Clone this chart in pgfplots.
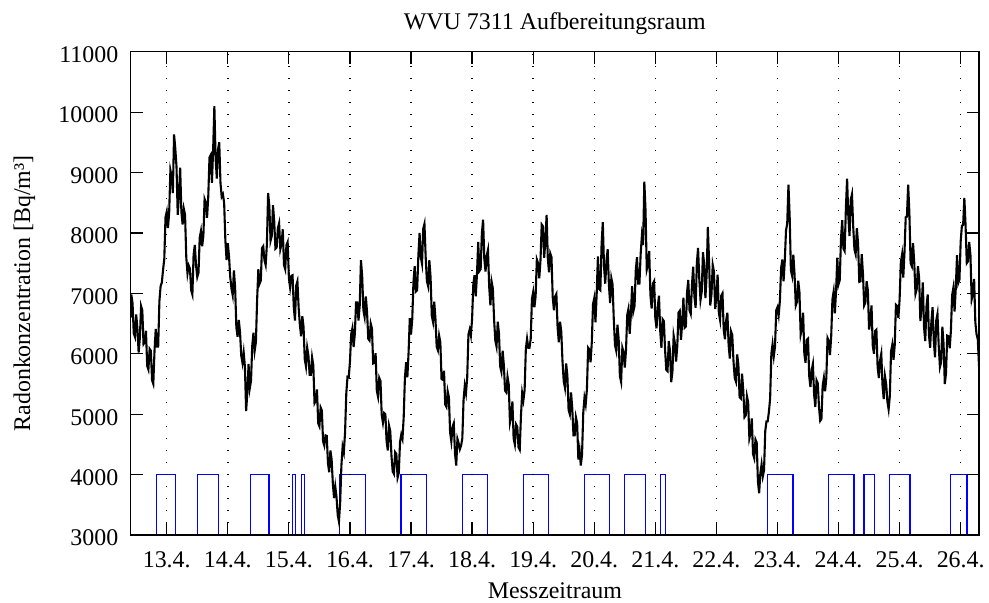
\documentclass[border=0pt]{standalone}
\usepackage{fontspec}
\setmainfont{Liberation Serif}
\usepackage{pgfplots}
\pgfplotsset{compat=1.18}
\usetikzlibrary{calc}

% Radonkonzentration (Bq/m3), Zeit in Tagen (April)
\pgfplotstableread{
t v
12.41 6600
12.42 6980
12.44 6840
12.46 6340
12.48 6280
12.50 6650
12.52 6420
12.54 6020
12.56 6260
12.58 6790
12.60 6720
12.62 6160
12.64 6190
12.66 6380
12.68 5800
12.70 5740
12.72 6080
12.74 6050
12.76 5560
12.78 5500
12.80 6050
12.82 6410
12.84 6120
12.86 6120
12.88 6870
12.90 7120
12.92 7180
12.94 7390
12.96 7570
12.98 8260
13.00 8350
13.02 8080
13.04 8340
13.06 9040
13.08 8940
13.10 8660
13.12 9630
13.14 9400
13.16 9100
13.18 8300
13.20 8610
13.22 9080
13.24 8350
13.26 8140
13.28 8400
13.30 8300
13.32 7600
13.34 7330
13.36 7460
13.38 7410
13.40 7050
13.42 6980
13.44 7640
13.46 7800
13.48 7460
13.50 7270
13.52 7340
13.54 7920
13.56 8030
13.58 7780
13.60 7950
13.62 8560
13.64 8500
13.66 8250
13.68 8600
13.70 9250
13.72 9290
13.74 8830
13.76 9380
13.78 10100
13.80 9240
13.82 8900
13.84 9380
13.86 9500
13.88 8830
13.90 8600
13.92 8640
13.94 8500
13.96 7880
13.98 7550
14.00 7830
14.02 7610
14.04 7270
14.06 7080
14.08 6970
14.10 7380
14.12 7090
14.14 6440
14.16 6280
14.18 6560
14.20 6360
14.22 5970
14.24 5850
14.26 6020
14.28 5790
14.30 5050
14.32 5360
14.34 5830
14.36 5430
14.38 5550
14.40 6130
14.42 6350
14.44 6050
14.46 6190
14.48 6890
14.50 7400
14.52 7160
14.54 7210
14.56 7750
14.58 7780
14.60 7550
14.62 7470
14.64 7810
14.66 8660
14.68 8450
14.70 7870
14.72 7950
14.74 8460
14.76 8190
14.78 7740
14.80 7760
14.82 8080
14.84 8160
14.86 7730
14.88 7820
14.90 8060
14.92 7470
14.94 7400
14.96 7800
14.98 7850
15.00 7260
15.02 7100
15.04 7290
15.06 7300
15.08 6780
15.10 6550
15.12 7130
15.14 7200
15.16 6760
15.18 6480
15.20 6290
15.22 6620
15.24 6450
15.26 5910
15.28 5790
15.30 6100
15.32 5970
15.34 5650
15.36 5650
15.38 5940
15.40 5810
15.42 5180
15.44 5220
15.46 5410
15.48 4850
15.50 4800
15.52 5110
15.54 5060
15.56 4550
15.58 4480
15.60 4650
15.62 4640
15.64 4190
15.66 4040
15.68 4400
15.70 4250
15.72 3850
15.74 3610
15.76 3800
15.78 3630
15.80 3330
15.82 3220
15.84 3540
15.86 4150
15.88 4460
15.90 4370
15.92 4700
15.94 5340
15.96 5620
15.98 5610
16.00 5870
16.02 6320
16.04 6420
16.06 6110
16.08 6330
16.10 6850
16.12 6850
16.14 6550
16.16 6800
16.18 7550
16.20 7290
16.22 6720
16.24 6610
16.26 6950
16.28 6690
16.30 6250
16.32 6220
16.34 6500
16.36 6420
16.38 5840
16.40 5850
16.42 6010
16.44 5390
16.46 5290
16.48 5600
16.50 5550
16.52 4990
16.54 4860
16.56 5020
16.58 5000
16.60 4550
16.62 4400
16.64 4810
16.66 4720
16.68 4310
16.70 4050
16.72 4010
16.74 4370
16.76 4340
16.78 3950
16.80 4030
16.82 4540
16.84 4660
16.86 4590
16.88 4950
16.90 5600
16.92 5860
16.94 5610
16.96 6020
16.98 6590
17.00 6320
17.02 6570
17.04 7190
17.06 7450
17.08 7030
17.10 7050
17.12 7620
17.14 8000
17.16 7600
17.18 7490
17.20 8070
17.22 8150
17.24 7600
17.26 7200
17.28 7120
17.30 7550
17.32 7270
17.34 6630
17.36 6530
17.38 6860
17.40 6580
17.42 6120
17.44 6060
17.46 6300
17.48 6190
17.50 5580
17.52 5570
17.54 5720
17.56 5160
17.58 5120
17.60 5380
17.62 5280
17.64 4700
17.66 4550
17.68 4790
17.70 4850
17.72 4350
17.74 4150
17.76 4590
17.78 4520
17.80 4420
17.82 4480
17.84 4600
17.86 5230
17.88 5470
17.90 5350
17.92 5610
17.94 6320
17.96 6400
17.98 6300
18.00 6580
18.02 7150
18.04 7300
18.06 6950
18.08 7320
18.10 7850
18.12 7370
18.14 7400
18.16 7990
18.18 8220
18.20 7570
18.22 7360
18.24 7630
18.26 7720
18.28 7110
18.30 6800
18.32 7190
18.34 7080
18.36 6570
18.38 6220
18.40 6120
18.42 6530
18.44 6340
18.46 5790
18.48 5700
18.50 6050
18.52 5810
18.54 5390
18.56 5360
18.58 5620
18.60 5490
18.62 4860
18.64 4960
18.66 5210
18.68 4600
18.70 4500
18.72 4830
18.74 4790
18.76 4450
18.78 4410
18.80 4970
18.82 5350
18.84 5230
18.86 5400
18.88 6080
18.90 6250
18.92 6100
18.94 6100
18.96 6250
18.98 6910
19.00 7020
19.02 6770
19.04 6950
19.06 7560
19.08 7500
19.10 7250
19.12 7550
19.14 8140
19.16 8110
19.18 7590
19.20 7870
19.22 8300
19.24 7570
19.26 7350
19.28 7660
19.30 7600
19.32 6940
19.34 6720
19.36 6950
19.38 6990
19.40 6440
19.42 6190
19.44 6530
19.46 6370
19.48 5880
19.50 5550
19.52 5440
19.54 5840
19.56 5640
19.58 5070
19.60 5000
19.62 5360
19.64 5100
19.66 4650
19.68 4650
19.70 4950
19.72 4850
19.74 4250
19.76 4400
19.78 4150
19.80 4330
19.82 5020
19.84 5270
19.86 5160
19.88 5410
19.90 6100
19.92 6070
19.94 5860
19.96 6190
19.98 6820
20.00 6920
20.02 6520
20.04 6990
20.06 7610
20.08 7070
20.10 7050
20.12 7800
20.14 8180
20.16 7450
20.18 7160
20.20 7540
20.22 7730
20.24 7140
20.26 6840
20.28 7250
20.30 7150
20.32 6570
20.34 6140
20.36 6050
20.38 6480
20.40 6240
20.42 5630
20.44 5535
20.46 6100
20.48 6030
20.50 5770
20.52 6060
20.54 6640
20.56 6740
20.58 6330
20.60 6650
20.62 7120
20.64 6700
20.66 6790
20.68 7380
20.70 7600
20.72 7160
20.74 7160
20.76 7650
20.78 7950
20.80 7800
20.82 8850
20.84 8370
20.86 7390
20.88 7470
20.90 7700
20.92 6970
20.94 6750
20.96 7160
20.98 7200
21.00 6590
21.02 6420
21.04 6780
21.06 6960
21.08 6380
21.10 6100
21.12 6570
21.14 6540
21.16 6060
21.18 5730
21.20 5710
21.22 6210
21.24 6050
21.26 5530
21.28 5700
21.30 6300
21.32 6180
21.34 5870
21.36 6130
21.38 6680
21.40 6710
21.42 6230
21.44 6500
21.46 6930
21.48 6430
21.50 6450
21.52 7020
21.54 7220
21.56 6720
21.58 6660
21.60 7140
21.62 7440
21.64 6950
21.66 6760
21.68 7500
21.70 7750
21.72 7240
21.74 6890
21.76 7030
21.78 7680
21.80 7480
21.82 6920
21.84 7290
21.86 8100
21.88 7540
21.90 6800
21.92 6990
21.94 7470
21.96 7360
21.98 6740
22.00 6950
22.02 7310
22.04 6680
22.06 6560
22.08 6960
22.10 7000
22.12 6400
22.14 6240
22.16 6550
22.18 6680
22.20 6150
22.22 5920
22.24 6370
22.26 6310
22.28 5880
22.30 5600
22.32 5540
22.34 5990
22.36 5820
22.38 5280
22.40 5260
22.42 5670
22.44 5400
22.46 4950
22.48 4980
22.50 5300
22.52 5200
22.54 4600
22.56 4690
22.58 4930
22.60 4340
22.62 4270
22.64 4580
22.66 4530
22.68 3890
22.70 3690
22.72 4020
22.74 4170
22.76 3970
22.78 4070
22.80 4720
22.82 4880
22.84 4880
22.86 5040
22.88 5260
22.90 6000
22.92 6160
22.94 5960
22.96 6120
22.98 6720
23.00 6770
23.02 6640
23.04 6880
23.06 7420
23.08 7560
23.10 7200
23.12 7540
23.14 8040
23.16 8160
23.18 8800
23.20 8270
23.22 7380
23.24 7290
23.26 7640
23.28 7310
23.30 6800
23.32 6860
23.34 7210
23.36 7020
23.38 6320
23.40 6420
23.42 6680
23.44 6000
23.46 5850
23.48 6230
23.50 6250
23.52 5630
23.54 5450
23.56 5730
23.58 5830
23.60 5330
23.62 5120
23.64 5560
23.66 5510
23.68 5120
23.70 4890
23.72 4920
23.74 5470
23.76 5600
23.78 5380
23.80 5600
23.82 6260
23.84 6210
23.86 5980
23.88 6290
23.90 6900
23.92 7030
23.94 6670
23.96 7050
23.98 7590
24.00 7150
24.02 7220
24.04 7900
24.06 8210
24.08 7740
24.10 7700
24.12 8390
24.14 8900
24.16 8280
24.18 7950
24.20 8550
24.22 8640
24.24 8110
24.26 7730
24.28 7650
24.30 8080
24.32 7820
24.34 7190
24.36 7200
24.38 7650
24.40 7320
24.42 6800
24.44 6850
24.46 7200
24.48 7050
24.50 6400
24.52 6520
24.54 6800
24.56 6140
24.58 6000
24.60 6380
24.62 6400
24.64 5780
24.66 5600
24.68 5890
24.70 6000
24.72 5480
24.74 5250
24.76 5630
24.78 5500
24.80 5210
24.82 5080
24.84 5300
24.86 6040
24.88 6150
24.90 5900
24.92 6140
24.94 6810
24.96 6790
24.98 6590
25.00 6900
25.02 7510
25.04 7640
25.06 7260
25.08 7680
25.10 8260
25.12 8270
25.14 8800
25.16 8330
25.18 7500
25.20 7450
25.22 7830
25.24 7500
25.26 6990
25.28 7070
25.30 7450
25.32 7250
25.34 6540
25.36 6780
25.38 7180
25.40 6440
25.42 6210
25.44 6780
25.46 6980
25.48 6320
25.50 6100
25.52 6530
25.54 6770
25.56 6210
25.58 5940
25.60 6550
25.62 6660
25.64 6140
25.66 5780
25.68 5860
25.70 6450
25.72 6160
25.74 5500
25.76 5680
25.78 6300
25.80 6290
25.82 6090
25.84 6380
25.86 6970
25.88 7090
25.90 6700
25.92 7090
25.94 7630
25.96 7170
25.98 7230
26.00 7860
26.02 8120
26.04 8130
26.06 8580
26.08 8130
26.10 7500
26.12 7530
26.14 7850
26.16 7630
26.18 6900
26.20 6990
26.22 7240
26.24 6520
26.26 6320
26.28 6240
26.30 5800
}\radon

% Betriebszustand (3000 = aus, 4000 = an)
\pgfplotstableread{
t v
12.41 3000
12.836 3000
12.836 4000
13.147 4000
13.147 3000
13.508 3000
13.508 4000
13.845 4000
13.845 3000
14.369 3000
14.369 4000
14.675 4000
14.675 3000
15.056 3000
15.056 4000
15.105 4000
15.105 3000
15.204 3000
15.204 4000
15.253 4000
15.253 3000
15.832 3000
15.832 4000
16.258 4000
16.258 3000
16.836 3000
16.836 4000
17.257 4000
17.257 3000
17.840 3000
17.840 4000
18.256 4000
18.256 3000
18.838 3000
18.838 4000
19.254 4000
19.254 3000
19.837 3000
19.837 4000
20.253 4000
20.253 3000
20.498 3000
20.498 4000
20.836 4000
20.836 3000
21.081 3000
21.081 4000
21.170 4000
21.170 3000
22.833 3000
22.833 4000
23.254 4000
23.254 3000
23.838 3000
23.838 4000
24.252 4000
24.252 3000
24.416 3000
24.416 4000
24.585 4000
24.585 3000
24.830 3000
24.830 4000
25.169 4000
25.169 3000
25.829 3000
25.829 4000
26.102 4000
26.102 3000
26.102 4000
26.30 4000
}\betrieb

\begin{document}
\begin{tikzpicture}
\begin{axis}[
    scale only axis,
    width=424.15bp, height=241.65bp,
    xmin=12.41, xmax=26.30,
    ymin=3000, ymax=11000,
    xtick={13,...,26},
    xticklabels={13.4.,14.4.,15.4.,16.4.,17.4.,18.4.,19.4.,20.4.,21.4.,22.4.,23.4.,24.4.,25.4.,26.4.},
    ytick={3000,4000,...,11000},
    scaled y ticks=false,
    /pgf/number format/assume math mode=true,
    /pgf/number format/set thousands separator={},
    tick align=inside,
    major tick length=6bp,
    tick style={black, line width=0.6bp},
    axis line style={line width=0.7bp},
    xmajorgrids=true,
    grid style={black, line width=0.7bp, dash pattern=on 0.7bp off 5.3bp},
    axis on top,
    font=\fontsize{12}{14}\selectfont,
    xticklabel style={anchor=base, yshift=-16.2bp},
    yticklabel style={anchor=east, xshift=-2.7bp, yshift=-1.5bp},
    title={WVU 7311 Aufbereitungsraum},
    title style={at={(0.5,1)}, anchor=base, yshift=5bp},
    xlabel={Messzeitraum},
    xlabel style={at={(axis description cs:0.5,0)}, anchor=base, yshift=-31.5bp},
    ylabel={Radonkonzentration [Bq/m³]},
    ylabel style={at={(axis description cs:-0.1186,0.5)}, rotate=0, anchor=base},
]
\addplot[blue, line width=0.65bp] table {\betrieb};
\addplot[black, line width=1.05bp] table {\radon};
\end{axis}
\pgfresetboundingbox
\path ($(current axis.south west)+(-65.35bp,-34bp)$) rectangle ($(current axis.north east)+(5bp,25.85bp)$);
\end{tikzpicture}
\end{document}
